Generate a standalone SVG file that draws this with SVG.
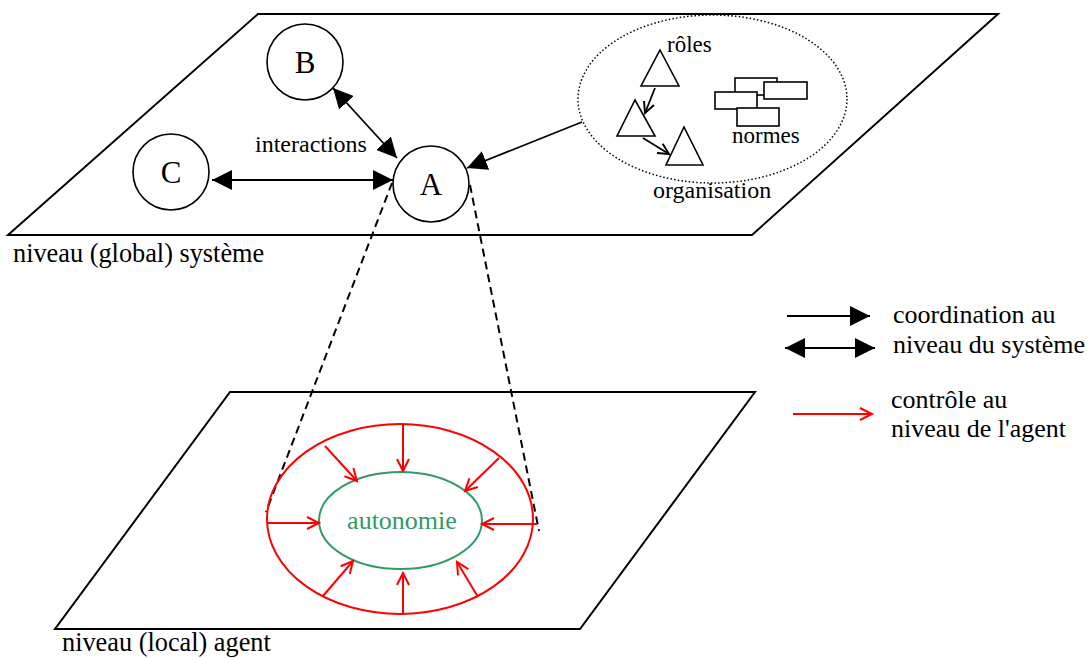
<svg xmlns="http://www.w3.org/2000/svg" width="1091" height="659" viewBox="0 0 1091 659">
<defs>
<style>
.t{font-family:"Liberation Serif","Times New Roman",serif;fill:#000}
.plane{fill:none;stroke:#000;stroke-width:2}
.node{fill:#fff;stroke:#000;stroke-width:1.6}
.blk{stroke:#000;stroke-width:1.8;fill:none}
.red{stroke:#f00;stroke-width:2;fill:none}
.dash{stroke:#000;stroke-width:2;stroke-dasharray:8 5;fill:none}
</style>
<marker id="fa" markerUnits="userSpaceOnUse" markerWidth="20" markerHeight="20" refX="20" refY="10" orient="auto-start-reverse" viewBox="0 0 20 20">
<path d="M0,0 L20,10 L0,20 z" fill="#000"/>
</marker>
<marker id="ra" markerUnits="userSpaceOnUse" markerWidth="16" markerHeight="16" refX="13" refY="7" orient="auto" viewBox="0 0 16 14">
<path d="M1,1 L13,7 L1,13" fill="none" stroke="#f00" stroke-width="2"/>
</marker>
<marker id="ba" markerUnits="userSpaceOnUse" markerWidth="14" markerHeight="14" refX="11" refY="6" orient="auto" viewBox="0 0 13 12">
<path d="M1,1 L11,6 L1,11" fill="none" stroke="#000" stroke-width="1.8"/>
</marker>
</defs>
<rect width="1091" height="659" fill="#fff"/>

<g id="plane-global">
<polygon class="plane" points="258,14 998,14 752,235 8,235"/>
<text class="t" x="13" y="262" font-size="26.3">niveau (global) système</text>
</g>
<g id="plane-local">
<polygon class="plane" points="230,392 755,392 580,629 55,629"/>
<text class="t" x="62" y="651" font-size="26.3">niveau (local) agent</text>
</g>

<g id="organisation">
<ellipse cx="712.5" cy="99" rx="134.5" ry="84" fill="none" stroke="#000" stroke-width="1.5" stroke-dasharray="1.5 2.2"/>
<polygon class="node" points="660,50 679,86 641,86"/>
<polygon class="node" points="635,100 655,136 617,136"/>
<polygon class="node" points="684,127 703,165 666,165"/>
<line class="blk" x1="655" y1="88" x2="645" y2="113" marker-end="url(#ba)"/>
<line class="blk" x1="643" y1="138" x2="669" y2="154" marker-end="url(#ba)"/>
<rect class="node" x="735" y="78" width="42" height="17"/>
<rect class="node" x="764" y="82" width="43" height="17"/>
<rect class="node" x="715" y="92" width="42" height="17"/>
<rect class="node" x="737" y="108" width="42" height="18"/>
<text class="t" x="667" y="52" font-size="23">rôles</text>
<text class="t" x="732" y="143" font-size="23">normes</text>
<text class="t" x="653" y="198" font-size="24">organisation</text>
</g>

<g id="connectors">
<line class="blk" x1="333" y1="88" x2="397" y2="158" marker-start="url(#fa)" marker-end="url(#fa)"/>
<line class="blk" x1="212" y1="180" x2="393" y2="180" marker-start="url(#fa)" marker-end="url(#fa)"/>
<line class="blk" x1="582" y1="122" x2="467" y2="168" marker-end="url(#fa)"/>
<line class="dash" x1="392" y1="183" x2="266" y2="512"/>
<line class="dash" x1="470" y1="185" x2="539" y2="531"/>
</g>

<g id="node-B">
<circle class="node" cx="305" cy="62" r="38"/>
<text class="t" x="305" y="73" font-size="31" text-anchor="middle">B</text>
</g>
<g id="node-C">
<circle class="node" cx="171" cy="172" r="38"/>
<text class="t" x="171" y="183" font-size="31" text-anchor="middle">C</text>
</g>
<g id="node-A">
<circle class="node" cx="431" cy="184" r="38"/>
<text class="t" x="431" y="195" font-size="31" text-anchor="middle">A</text>
</g>
<text class="t" x="255" y="152" font-size="24">interactions</text>

<g id="agent">
<ellipse class="red" cx="400" cy="519" rx="133" ry="95"/>
<ellipse cx="400.5" cy="520.5" rx="81.5" ry="48.5" fill="none" stroke="#339966" stroke-width="2"/>
<text x="402" y="529" font-size="26" text-anchor="middle" fill="#339966" font-family="Liberation Serif,Times New Roman,serif">autonomie</text>
<g id="control-arrows">
<line class="red" x1="403" y1="424" x2="403" y2="471" marker-end="url(#ra)"/>
<line class="red" x1="267" y1="523" x2="319" y2="523" marker-end="url(#ra)"/>
<line class="red" x1="537" y1="524" x2="482" y2="524" marker-end="url(#ra)"/>
<line class="red" x1="403" y1="615" x2="403" y2="573" marker-end="url(#ra)"/>
<line class="red" x1="325" y1="446" x2="357" y2="481" marker-end="url(#ra)"/>
<line class="red" x1="499" y1="458" x2="465" y2="491" marker-end="url(#ra)"/>
<line class="red" x1="323" y1="596" x2="353" y2="561" marker-end="url(#ra)"/>
<line class="red" x1="478" y1="597" x2="457" y2="562" marker-end="url(#ra)"/>
</g>
</g>

<g id="legend">
<line class="blk" x1="787" y1="316" x2="870" y2="316" marker-end="url(#fa)"/>
<line class="blk" x1="785" y1="348" x2="875" y2="348" marker-start="url(#fa)" marker-end="url(#fa)"/>
<line class="red" x1="793" y1="414" x2="872" y2="414" marker-end="url(#ra)"/>
<text class="t" x="893" y="323" font-size="26">coordination au</text>
<text class="t" x="893" y="353" font-size="26">niveau du système</text>
<text class="t" x="891" y="408" font-size="26">contrôle au</text>
<text class="t" x="891" y="437" font-size="26">niveau de l'agent</text>
</g>
</svg>
